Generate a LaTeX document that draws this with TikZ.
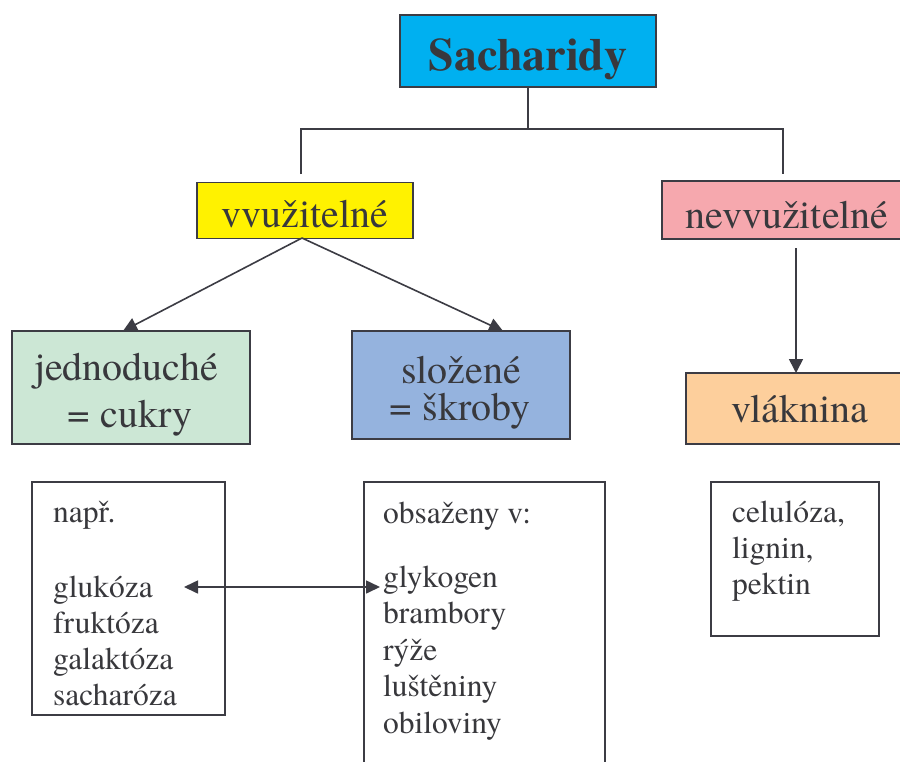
\documentclass[tikz,border=0pt]{standalone}
\usepackage{fontspec}
\setmainfont{TeX Gyre Termes}
\usetikzlibrary{arrows.meta}
\definecolor{linec}{HTML}{3C3C44}
\definecolor{textc}{HTML}{38383C}
\definecolor{sachc}{HTML}{00B0F0}
\definecolor{vyuc}{HTML}{FFF200}
\definecolor{nevc}{HTML}{F6A8AE}
\definecolor{jedc}{HTML}{CCE7D5}
\definecolor{slozc}{HTML}{95B3DE}
\definecolor{vlakc}{HTML}{FDCF9C}
\tikzset{
  box/.style={draw=linec, line width=1.8pt, inner sep=0pt, outer sep=0pt, rectangle},
  listbox/.style={draw=linec, line width=1.6pt, inner sep=0pt, outer sep=0pt, rectangle},
  bigtxt/.style={text=textc, inner sep=0pt, anchor=base, font=\rmfamily\fontsize{40}{46}\selectfont},
  smalltxt/.style={text=textc, inner sep=0pt, anchor=base west, font=\rmfamily\fontsize{31.5}{36}\selectfont},
  conn/.style={draw=linec, line width=1.6pt},
  arr/.style={conn, -{Triangle[length=14pt,width=14pt]}},
  darr/.style={conn, {Triangle[length=14pt,width=13pt]}-{Triangle[length=14pt,width=13pt]}}
}
\begin{document}
\begin{tikzpicture}[x=1pt,y=-1pt]
\useasboundingbox (0,0) rectangle (900,761);
\fill[white] (0,0) rectangle (900,761);
% top box
\node[box, fill=sachc, minimum width=256pt, minimum height=72pt] (sach) at (528,51) {};
\node[text=textc, inner sep=0pt, anchor=base, font=\rmfamily\fontsize{46}{52}\selectfont\bfseries] (sacht) at (528,70) {Sacharidy};
% second level
\node[box, fill=vyuc, minimum width=216pt, minimum height=56pt] (vyu) at (305,210.5) {};
\node[bigtxt] (vyut) at (305,227) {vvužitelné};
\node[box, fill=nevc, minimum width=243pt, minimum height=58pt] (nev) at (783.5,210) {};
\node[bigtxt] (nevt) at (787,228) {nevvužitelné};
% third level
\node[box, fill=jedc, minimum width=238pt, minimum height=113pt] (jed) at (131,387.5) {};
\node[bigtxt] (jedt1) at (126,380) {jednoduché};
\node[bigtxt] (jedt2) at (130,427) {= cukry};
\node[box, fill=slozc, minimum width=218pt, minimum height=108pt] (sloz) at (461,385) {};
\node[bigtxt] (slozt1) at (461,383) {složené};
\node[bigtxt] (slozt2) at (460,420) {= škroby};
\node[box, fill=vlakc, minimum width=219pt, minimum height=71pt] (vlak) at (795.5,408.5) {};
\node[bigtxt] (vlakt) at (800,422) {vláknina};
% list boxes
\node[listbox, minimum width=193pt, minimum height=233pt] (lst1) at (128.5,598.5) {};
\node[listbox, minimum width=241pt, minimum height=300pt] (lst2) at (484.5,632) {};
\node[listbox, minimum width=168pt, minimum height=154pt] (lst3) at (795,559) {};
\foreach \t/\yy [count=\i] in {např./522, glukóza/597, fruktóza/633, galaktóza/669, sacharóza/705}
  \node[smalltxt] (la\i) at (53,\yy) {\t};
\foreach \t/\yy [count=\i] in {obsaženy v:/523, glykogen/587, brambory/623.5, rýže/660, luštěniny/696.5, obiloviny/733}
  \node[smalltxt] (lb\i) at (383,\yy) {\t};
\foreach \t/\yy [count=\i] in {{celulóza,}/522, {lignin,}/558, pektin/594.5}
  \node[smalltxt] (lc\i) at (732,\yy) {\t};
% tree connectors
\coordinate (hub) at (528,129);
\coordinate (hubL) at (301,129);
\coordinate (hubR) at (783,129);
\coordinate (endL) at (301,174);
\coordinate (endR) at (783,174);
\draw[conn] (sach.south) -- (hub);
\draw[conn] (endL) -- (hubL) -- (hubR) -- (endR);
% arrows from vvužitelné
\coordinate (vyuB) at (302,238);
\coordinate (jedT) at (123,331);
\coordinate (slozT) at (503,331);
\draw[arr] (vyuB) -- (jedT);
\draw[arr] (vyuB) -- (slozT);
% arrow nevvužitelné -> vláknina
\coordinate (nevB) at (796,248);
\coordinate (vlakT) at (796,373);
\draw[arr] (nevB) -- (vlakT);
% double arrow
\coordinate (gluR) at (184,587);
\coordinate (glyL) at (380,587);
\draw[darr] (gluR) -- (glyL);
\end{tikzpicture}
\end{document}
